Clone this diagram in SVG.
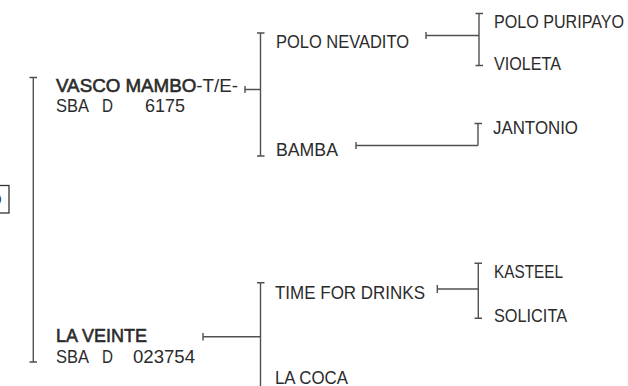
<svg xmlns="http://www.w3.org/2000/svg" width="628" height="386" viewBox="0 0 628 386">
<style>
text{font-family:"Liberation Sans",Arial,sans-serif;font-size:19px;fill:#2b2b2b}
.b{stroke:#2b2b2b;stroke-width:0.6}
.ln{stroke:#505050;stroke-width:1.4;fill:none}
</style>
<rect width="628" height="386" fill="#ffffff"/>
<g id="root">
<rect x="-40" y="185.5" width="49" height="27.5" fill="none" stroke="#333" stroke-width="1.3"/>
<text x="-13" y="206">O</text>
</g>
<g id="vasco">
<text x="56" y="92" textLength="182" lengthAdjust="spacingAndGlyphs"><tspan class="b">VASCO MAMBO</tspan>-T/E-</text>
<text x="56" y="112" textLength="33" lengthAdjust="spacingAndGlyphs">SBA</text>
<text x="102" y="112" textLength="11" lengthAdjust="spacingAndGlyphs">D</text>
<text x="145" y="112" textLength="40" lengthAdjust="spacingAndGlyphs">6175</text>
</g>
<g id="laveinte">
<text class="b" x="56" y="342" textLength="91" lengthAdjust="spacingAndGlyphs">LA VEINTE</text>
<text x="56" y="363" textLength="33" lengthAdjust="spacingAndGlyphs">SBA</text>
<text x="102" y="363" textLength="11" lengthAdjust="spacingAndGlyphs">D</text>
<text x="133" y="363" textLength="62" lengthAdjust="spacingAndGlyphs">023754</text>
</g>
<g id="polonevadito"><text x="276" y="48" textLength="133" lengthAdjust="spacingAndGlyphs">POLO NEVADITO</text></g>
<g id="bamba"><text x="276" y="156" textLength="62" lengthAdjust="spacingAndGlyphs">BAMBA</text></g>
<g id="timefordrinks"><text x="275" y="299" textLength="150" lengthAdjust="spacingAndGlyphs">TIME FOR DRINKS</text></g>
<g id="lacoca"><text x="275" y="383.5" textLength="73" lengthAdjust="spacingAndGlyphs">LA COCA</text></g>
<g id="polopuripayo"><text x="494" y="28" textLength="130" lengthAdjust="spacingAndGlyphs">POLO PURIPAYO</text></g>
<g id="violeta"><text x="494" y="70" textLength="67" lengthAdjust="spacingAndGlyphs">VIOLETA</text></g>
<g id="jantonio"><text x="493" y="134" textLength="85" lengthAdjust="spacingAndGlyphs">JANTONIO</text></g>
<g id="kasteel"><text x="494" y="278" textLength="69" lengthAdjust="spacingAndGlyphs">KASTEEL</text></g>
<g id="solicita"><text x="494" y="322" textLength="73" lengthAdjust="spacingAndGlyphs">SOLICITA</text></g>
<g id="connectors" class="ln">
<path d="M33.3 77.5V362M29.5 77.5h7.5M29.5 362h7.5"/>
<path d="M245 86v7M245 89.5h15.5M260.5 33V156M257 33h7.5M257 156h7.5"/>
<path d="M426 32v7M426 35.5h53M479 13.5V65.5M475.5 13.5h7.5M475.5 65.5h7.5"/>
<path d="M356 142v7M356 145.5h122M478 123.5V145.5M474.5 123.5h7.5"/>
<path d="M203 333v7.5M203 336.7h57.5M260.5 282.7V386M257 282.7h7.5"/>
<path d="M437.3 285v8M437.3 289h41M478.3 263.3V318.3M474.5 263.3h7.5M474.5 318.3h7.5"/>
</g>
</svg>
